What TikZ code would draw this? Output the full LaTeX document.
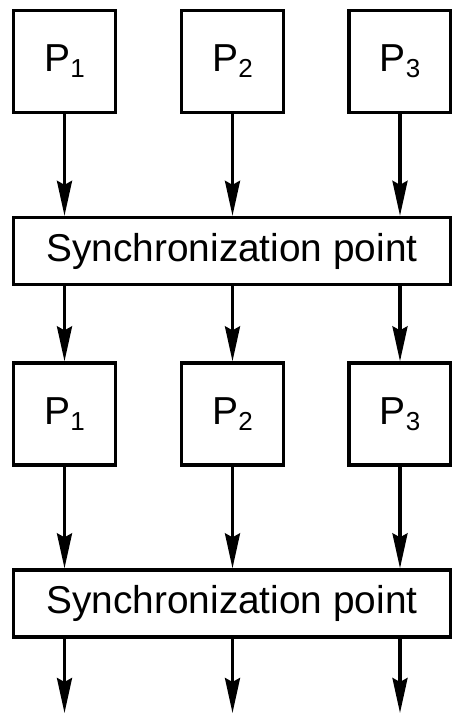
\documentclass[tikz,border=0pt]{standalone}
\usepackage{fontspec}
\setmainfont{Liberation Sans}
\usetikzlibrary{arrows.meta}
\newcommand{\proc}[1]{\fontsize{39}{39}\selectfont P\raisebox{-6pt}{\fontsize{26}{26}\selectfont #1}}
\begin{document}
\begin{tikzpicture}[x=1pt,y=-1pt,
  line width=3.3pt,
  procbox/.style={draw, minimum width=102pt, minimum height=102pt, inner sep=0pt},
  syncbox/.style={draw, minimum width=437pt, minimum height=67pt, inner sep=0pt,
    font=\fontsize{38.8}{38.8}\selectfont},
  flow/.style={-{Stealth[length=35pt,width=15pt,inset=4pt]}}]
\useasboundingbox (0,0) rectangle (452,715);

% first round of processes
\node[procbox] (a1) at (64.5,61.5) {\proc{1}};
\node[procbox] (a2) at (232.5,61.5) {\proc{2}};
\node[procbox] (a3) at (400,61.5) {\proc{3}};

% first barrier
\node[syncbox] (s1) at (232,251) {Synchronization point};

% second round of processes
\node[procbox] (b1) at (64.5,414) {\proc{1}};
\node[procbox] (b2) at (232.5,414) {\proc{2}};
\node[procbox] (b3) at (400,414) {\proc{3}};

% second barrier
\node[syncbox] (s2) at (232,603.5) {Synchronization point};

% loose ends below the last barrier
\coordinate (e1) at (64.5,713);
\coordinate (e2) at (232.5,713);
\coordinate (e3) at (400,713);

\foreach \i in {1,2,3}{
  \draw[flow] (a\i.south) -- (a\i.south |- s1.north);
  \draw[flow] (b\i.north |- s1.south) -- (b\i.north);
  \draw[flow] (b\i.south) -- (b\i.south |- s2.north);
  \draw[flow] (e\i |- s2.south) -- (e\i);
}
\end{tikzpicture}
\end{document}
